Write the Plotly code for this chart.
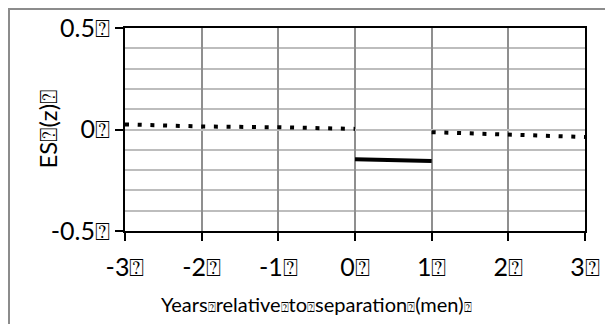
"""
Effect size around separation (men) - line chart
"""
import plotly.graph_objects as go

# data
before_years = [-3, -2, -1, 0]
before_es = [0.025, 0.015, 0.011, 0.003]

during_years = [0, 1]
during_es = [-0.147, -0.155]

after_years = [1, 2, 3]
after_es = [-0.013, -0.027, -0.037]

x_ticks = [-3, -2, -1, 0, 1, 2, 3]
x_labels = ["-3⍰", "-2⍰", "-1⍰", "0⍰", "1⍰", "2⍰", "3⍰"]
y_ticks = [-0.5, 0, 0.5]
y_labels = ["-0.5⍰", "0⍰", "0.5⍰"]

x_title_words = ["Years", "relative", "to", "separation", "(men)", ""]
y_title = "ES⍰(z)⍰"

FONT = "Lato"
# page body has an 8px margin, so the figure is drawn 8px in from the corner
OFF = 8
W, H = 613 - OFF, 324 - OFF
L, R, T, B = 125 - OFF, 28, 28 - OFF, 93

fig = go.Figure()

# dotted segments
for xs, ys in [(before_years, before_es), (after_years, after_es)]:
    fig.add_trace(go.Scatter(
        x=xs, y=ys, mode="lines",
        line=dict(color="black", width=4, dash="4px,8.7px"),
        showlegend=False, hoverinfo="skip"
    ))

# solid segment
fig.add_trace(go.Scatter(
    x=during_years, y=during_es, mode="lines",
    line=dict(color="black", width=4),
    showlegend=False, hoverinfo="skip"
))

pw = W - L - R
ph = H - T - B

def px_x(p):
    # screenshot pixel -> paper coordinate
    return (p - OFF - L) / pw

def px_y(p):
    return (H - B - (p - OFF)) / ph

# the placeholder boxes are narrow in the original, so draw them small
box = '<span style="font-size:13px">⍰</span>'
x_title = box.join(x_title_words)

fig.update_layout(
    width=W, height=H,
    margin=dict(l=L, r=R, t=T, b=B),
    plot_bgcolor="white",
    paper_bgcolor="white",
    font=dict(family=FONT, size=25, color="black"),
    xaxis=dict(
        range=[-3, 3],
        tickvals=x_ticks, ticktext=x_labels,
        showgrid=True, gridcolor="#8f8f8f", gridwidth=2,
        zeroline=False, automargin=False,
        showline=True, linecolor="black", linewidth=2, mirror=True,
        ticks="outside", ticklen=8, tickwidth=2, tickcolor="black",
        ticklabelstandoff=5,
    ),
    yaxis=dict(
        range=[-0.5, 0.5],
        tickvals=y_ticks, ticktext=y_labels,
        showgrid=True, gridcolor="#bdbdbd", gridwidth=2,
        zeroline=False, automargin=False,
        showline=True, linecolor="black", linewidth=2, mirror=True,
        ticks="outside", ticklen=8, tickwidth=2, tickcolor="black",
        minor=dict(dtick=0.1, showgrid=True, gridcolor="#bdbdbd", gridwidth=2, ticks=""),
    ),
    annotations=[
        dict(text=x_title, xref="paper", yref="paper",
             x=px_x(316), y=px_y(304), showarrow=False,
             xanchor="center", yanchor="middle", font=dict(size=20)),
        dict(text=y_title, xref="paper", yref="paper",
             x=px_x(47), y=0.5, showarrow=False, textangle=-90,
             xanchor="center", yanchor="middle", font=dict(size=24)),
    ],
    shapes=[
        # outer chart frame (left and top edges visible)
        dict(type="rect", xref="paper", yref="paper",
             x0=px_x(OFF + 1), x1=px_x(640), y0=px_y(350), y1=px_y(OFF + 1),
             line=dict(color="#8c8c8c", width=2), layer="below"),
    ],
)

fig.write_html("out.html")
